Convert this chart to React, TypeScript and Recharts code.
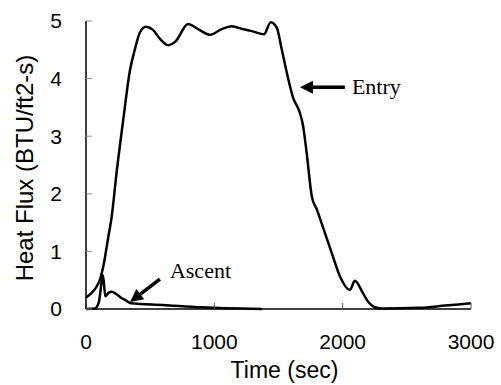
import { LineChart, Line, XAxis, YAxis, ReferenceLine, ReferenceDot } from 'recharts';

const xTicks = [0, 1000, 2000, 3000];
const yTicks = [0, 1, 2, 3, 4, 5];

const entryTime = [0, 40, 80, 110, 140, 170, 200, 240, 290, 343, 380, 420, 467, 520, 580, 640, 700, 795, 880, 966, 1050, 1137, 1220, 1300, 1386, 1440, 1487, 1526, 1565, 1612, 1667, 1690, 1720, 1760, 1800, 1845, 1915, 1980, 2056, 2095, 2157, 2200, 2250, 2300, 2600, 2800, 3000];
const entryFlux = [0.2, 0.27, 0.38, 0.52, 0.8, 1.2, 1.6, 2.4, 3.28, 4.15, 4.5, 4.8, 4.9, 4.85, 4.68, 4.58, 4.65, 4.95, 4.85, 4.76, 4.85, 4.91, 4.86, 4.82, 4.77, 4.98, 4.88, 4.5, 4.1, 3.68, 3.4, 3.2, 2.7, 1.95, 1.72, 1.43, 0.97, 0.56, 0.33, 0.49, 0.28, 0.12, 0.03, 0.01, 0.02, 0.06, 0.1];

const ascentTime = [0, 70, 100, 133, 150, 175, 200, 235, 270, 310, 350, 600, 900, 1370];
const ascentFlux = [0, 0.01, 0.12, 0.58, 0.22, 0.28, 0.3, 0.26, 0.2, 0.15, 0.1, 0.07, 0.03, 0];

const entryData = entryTime.map((t, i) => ({ t, v: entryFlux[i] }));
const ascentData = ascentTime.map((t, i) => ({ t, v: ascentFlux[i] }));

const sans = '"Liberation Sans", Arial, sans-serif';
const serif = '"Liberation Serif", "Times New Roman", serif';

// line with a filled arrow head at the (x2, y2) end
const Arrow = (p: any) => {
  const { x1, y1, x2, y2 } = p;
  const dx = x2 - x1;
  const dy = y2 - y1;
  const len = Math.sqrt(dx * dx + dy * dy) || 1;
  const ux = dx / len;
  const uy = dy / len;
  const hl = 13;
  const hw = 6.5;
  const bx = x2 - ux * hl;
  const by = y2 - uy * hl;
  return (
    <g>
      <line x1={x1} y1={y1} x2={bx} y2={by} stroke="#000" strokeWidth={3.5} />
      <polygon
        points={`${x2},${y2} ${bx - uy * hw},${by + ux * hw} ${bx + uy * hw},${by - ux * hw}`}
        fill="#000"
      />
    </g>
  );
};

const note = (value: string) => (p: any) => (
  <text x={p.cx} y={p.cy} fontFamily={serif} fontSize={22} fill="#000">
    {value}
  </text>
);

export default function App() {
  return (
    <div style={{ position: 'absolute', left: 0, top: 0, background: '#fff' }}>
      <LineChart width={501} height={385} data={entryData} margin={{ top: 21, right: 30, bottom: 0, left: 0 }}>
        <XAxis
          dataKey="t"
          type="number"
          domain={[0, 3000]}
          ticks={xTicks}
          height={76}
          tickSize={-6}
          tickMargin={31}
          axisLine={{ stroke: '#000', strokeWidth: 1.5 }}
          tickLine={{ stroke: '#555' }}
          tick={{ fill: '#000', fontSize: 21, fontFamily: sans }}
          label={{ value: 'Time (sec)', position: 'insideBottom', offset: 7, dx: 6, fill: '#000', fontSize: 23, fontFamily: sans }}
        />
        <YAxis
          type="number"
          domain={[0, 5]}
          ticks={yTicks}
          width={86}
          tickSize={-6}
          tickMargin={30}
          axisLine={{ stroke: '#000', strokeWidth: 1.5 }}
          tickLine={{ stroke: '#888' }}
          tick={{ fill: '#000', fontSize: 21, fontFamily: sans }}
          label={{
            content: () => (
              <text x={33} y={168} transform="rotate(-90 33 168)" textAnchor="middle" fontFamily={sans} fontSize={24} fill="#000">
                Heat Flux (BTU/ft2-s)
              </text>
            ),
          }}
        />
        <Line data={entryData} dataKey="v" type="monotone" stroke="#000" strokeWidth={2.5} dot={false} isAnimationActive={false} />
        <Line data={ascentData} dataKey="v" type="monotone" stroke="#000" strokeWidth={2.5} dot={false} isAnimationActive={false} />
        <ReferenceLine segment={[{ x: 2017, y: 3.85 }, { x: 1667, y: 3.85 }]} shape={Arrow} ifOverflow="visible" />
        <ReferenceLine segment={[{ x: 576, y: 0.52 }, { x: 343, y: 0.12 }]} shape={Arrow} ifOverflow="visible" />
        <ReferenceDot x={2072} y={3.73} r={0} shape={note('Entry')} ifOverflow="visible" />
        <ReferenceDot x={654} y={0.54} r={0} shape={note('Ascent')} ifOverflow="visible" />
      </LineChart>
    </div>
  );
}
